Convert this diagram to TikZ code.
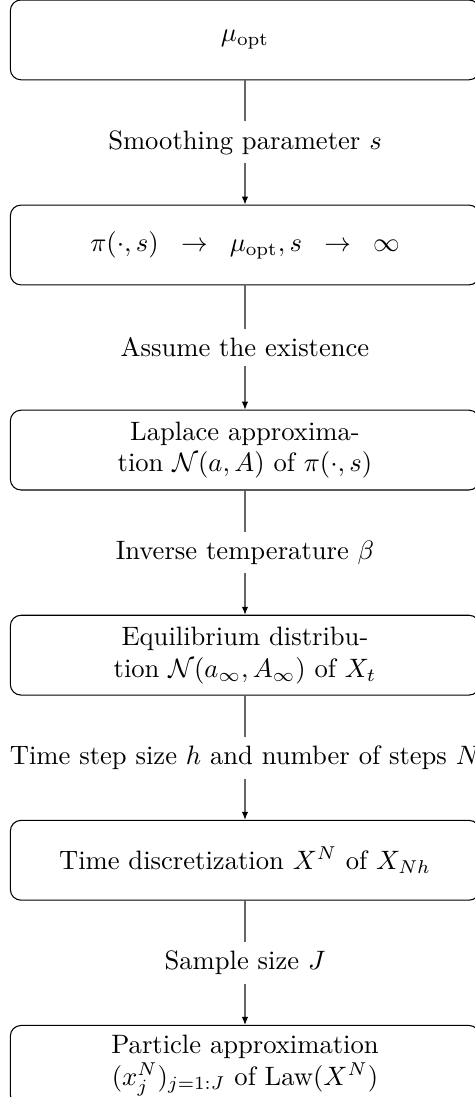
\documentclass[tikz,border=0pt]{standalone}
\usepackage{amsmath,amssymb}
\usepackage{tikz}
\usetikzlibrary{arrows.meta,positioning}
\tikzset{
  stagebox/.style={
    draw=black,
    rounded corners=4pt,
    align=center,
    inner sep=3.33pt,
    minimum width=6.2cm,
    minimum height=30pt
  },
  choicelabel/.style={
    fill=white,
    align=center,
    inner sep=3.33pt
  },
  stagearrow/.style={-{Latex[length=3pt,width=2.4pt,black]}, draw=black!60}
}

\begin{document}
\begin{tikzpicture}[node distance=46.7pt]
\useasboundingbox (-92.1pt,-397.4pt) rectangle (86.1pt,15pt);
\node[stagebox] (muopt) {$\mu_{\mathrm{opt}}$};
\node[stagebox, below=of muopt] (limit) {$\pi(\cdot,s)\;\;\to\;\;\mu_{\mathrm{opt}},s\;\;\to\;\;\infty$};
\node[stagebox, below=of limit] (laplace) {Laplace approxima-\\tion $\mathcal{N}(a,A)$ of $\pi(\cdot,s)$};
\node[stagebox, below=of laplace] (equil) {Equilibrium distribu-\\tion $\mathcal{N}(a_\infty,A_\infty)$ of $X_t$};
\node[stagebox, below=of equil] (discr) {Time discretization $X^N$ of $X_{Nh}$};
\node[stagebox, below=of discr] (particle) {Particle approximation\\$(x_j^N)_{j=1:J}$ of Law$(X^N)$};

\draw[stagearrow] (muopt) -- node[choicelabel] {Smoothing parameter $s$} (limit);
\draw[stagearrow] (limit) -- node[choicelabel] {Assume the existence} (laplace);
\draw[stagearrow] (laplace) -- node[choicelabel] {Inverse temperature $\beta$} (equil);
\draw[stagearrow] (equil) -- node[choicelabel] {Time step size $h$ and number of steps $N$} (discr);
\draw[stagearrow] (discr) -- node[choicelabel] {Sample size $J$} (particle);
\end{tikzpicture}
\end{document}
